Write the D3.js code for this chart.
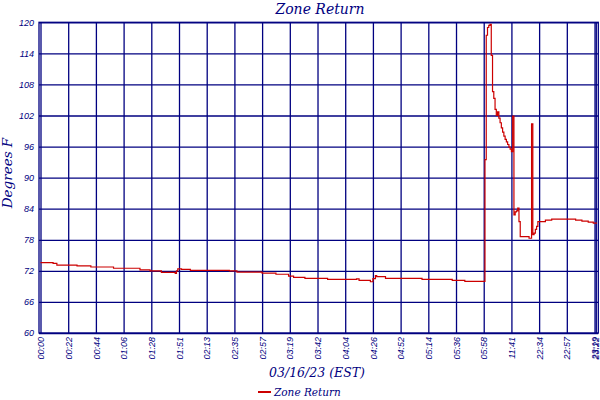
<!DOCTYPE html>
<html>
<head>
<meta charset="utf-8">
<script src="https://cdn.jsdelivr.net/npm/d3@7"></script>
<style>
  body { margin: 0; background: #fff; }
  svg { display: block; }
</style>
</head>
<body>
<script>
// sample index (about one per minute) where the reading changes, and the reading from there on
const sampleIdx = [0, 10, 13, 29, 40, 58, 79, 87, 96, 107, 108, 109, 112, 119, 150, 156,
    176, 187, 197, 201, 210, 228, 251, 253, 262, 264, 266, 267, 274, 303, 305, 327, 337,
    353, 354, 355, 356, 357, 358, 359, 360, 361, 362, 363, 364, 365, 366, 367, 368, 369,
    370, 371, 372, 373, 374, 375, 376, 377, 378, 379, 380, 381, 388, 390, 391, 392, 393,
    394, 395, 401, 406, 425, 430, 435, 439, 442];
const zoneReturn = [73.6, 73.45, 73.1, 72.95, 72.75, 72.5, 72.2, 72.0, 71.7, 71.5, 72.0, 72.4, 72.3, 72.1, 72.0, 71.75,
    71.55, 71.35, 71.0, 70.75, 70.55, 70.35, 70.45, 70.15, 69.9, 70.5, 71.1, 70.9, 70.55, 70.35, 70.35, 70.15, 69.97,
    93.5, 117.5, 119.0, 119.4, 119.6, 113.6, 106.6, 105.3, 103.2, 102.0, 102.7, 101.5, 100.6, 99.6, 98.8, 98.0, 97.4,
    96.9, 96.4, 95.9, 95.5, 95.0, 101.9, 82.8, 83.4, 83.6, 84.1, 81.5, 78.6, 78.3, 100.4, 79.0, 79.3, 80.0,
    80.6, 81.5, 81.8, 82.0, 81.8, 81.6, 81.4, 81.2, 81.2];

const tickIdx = [0, 22, 44, 66, 88, 110, 132, 154, 176, 198, 220, 242, 264, 286, 308, 330, 352, 374, 396, 418, 440, 441];
const tickLabels = ['00:00', '00:22', '00:44', '01:06', '01:28', '01:51', '02:13', '02:35', '02:57', '03:19', '03:42',
    '04:04', '04:26', '04:52', '05:14', '05:36', '05:58', '11:41', '22:34', '22:57', '23:19', '23:22'];
const yTicks = [60, 66, 72, 78, 84, 90, 96, 102, 108, 114, 120];

const navy = '#000080';
const red = '#cc0000';
const width = 600, height = 400;
const plotLeft = 40.5, plotRight = 598.3, plotTop = 22.3, plotBottom = 333;

const data = sampleIdx.map((d, i) => ({idx: d, v: zoneReturn[i]}));

const x = d3.scaleLinear().domain([0, 443]).range([plotLeft, plotRight]);
const y = d3.scaleLinear().domain([60, 120]).range([plotBottom, plotTop]);

const svg = d3.select('body').append('svg')
    .attr('width', width)
    .attr('height', height);

svg.append('rect').attr('width', width).attr('height', height).attr('fill', '#fff');

// horizontal grid + y labels
const yAxis = svg.append('g')
    .attr('transform', `translate(${plotLeft - 1.5},0)`)
    .call(d3.axisLeft(y).tickValues(yTicks).tickSizeInner(-(plotRight - plotLeft + 1.5)).tickSizeOuter(0).tickPadding(5));
yAxis.select('.domain').remove();
yAxis.selectAll('line').attr('stroke', navy).attr('stroke-width', 1.3);
yAxis.selectAll('text')
    .attr('fill', navy)
    .style('font', 'italic 9px "Liberation Sans", Arial, sans-serif');

// vertical grid + time labels
const xAxis = svg.append('g')
    .attr('transform', `translate(0,${plotBottom})`)
    .call(d3.axisBottom(x).tickValues(tickIdx)
        .tickFormat((d, i) => tickLabels[i])
        .tickSizeInner(-(plotBottom - plotTop)).tickSizeOuter(0));
xAxis.select('.domain').remove();
xAxis.selectAll('line').attr('stroke', navy).attr('stroke-width', 1.3);
xAxis.selectAll('text')
    .attr('fill', navy)
    .attr('transform', 'rotate(-90)')
    .attr('text-anchor', 'end')
    .attr('x', -4)
    .attr('y', 0)
    .attr('dy', '0.35em')
    .style('font', 'italic 9px "Liberation Sans", Arial, sans-serif');

// frame
svg.append('rect')
    .attr('x', plotLeft - 1.5).attr('y', plotTop)
    .attr('width', plotRight - plotLeft + 1.5).attr('height', plotBottom - plotTop)
    .attr('fill', 'none').attr('stroke', navy).attr('stroke-width', 1.3);

// the reading
const line = d3.line()
    .x(d => x(d.idx))
    .y(d => y(d.v))
    .curve(d3.curveStepAfter);

svg.append('path')
    .datum(data)
    .attr('d', line)
    .attr('fill', 'none')
    .attr('stroke', red)
    .attr('stroke-width', 1.2);

// titles
svg.append('text')
    .attr('x', 320).attr('y', 14)
    .attr('text-anchor', 'middle')
    .attr('fill', navy)
    .style('font', 'italic 14px "DejaVu Serif", serif')
    .text('Zone Return');

svg.append('text')
    .attr('transform', 'translate(12,173) rotate(-90)')
    .attr('text-anchor', 'middle')
    .attr('fill', navy)
    .style('font', 'italic 13.5px "DejaVu Serif", serif')
    .text('Degrees F');

svg.append('text')
    .attr('x', 317).attr('y', 377)
    .attr('text-anchor', 'middle')
    .attr('fill', navy)
    .style('font', 'italic 12.5px "DejaVu Serif", serif')
    .text('03/16/23 (EST)');

// legend
svg.append('line')
    .attr('x1', 258).attr('x2', 271)
    .attr('y1', 392).attr('y2', 392)
    .attr('stroke', red).attr('stroke-width', 2);
svg.append('text')
    .attr('x', 274).attr('y', 396)
    .attr('fill', navy)
    .style('font', 'italic 10.5px "DejaVu Serif", serif')
    .text('Zone Return');
</script>
</body>
</html>
